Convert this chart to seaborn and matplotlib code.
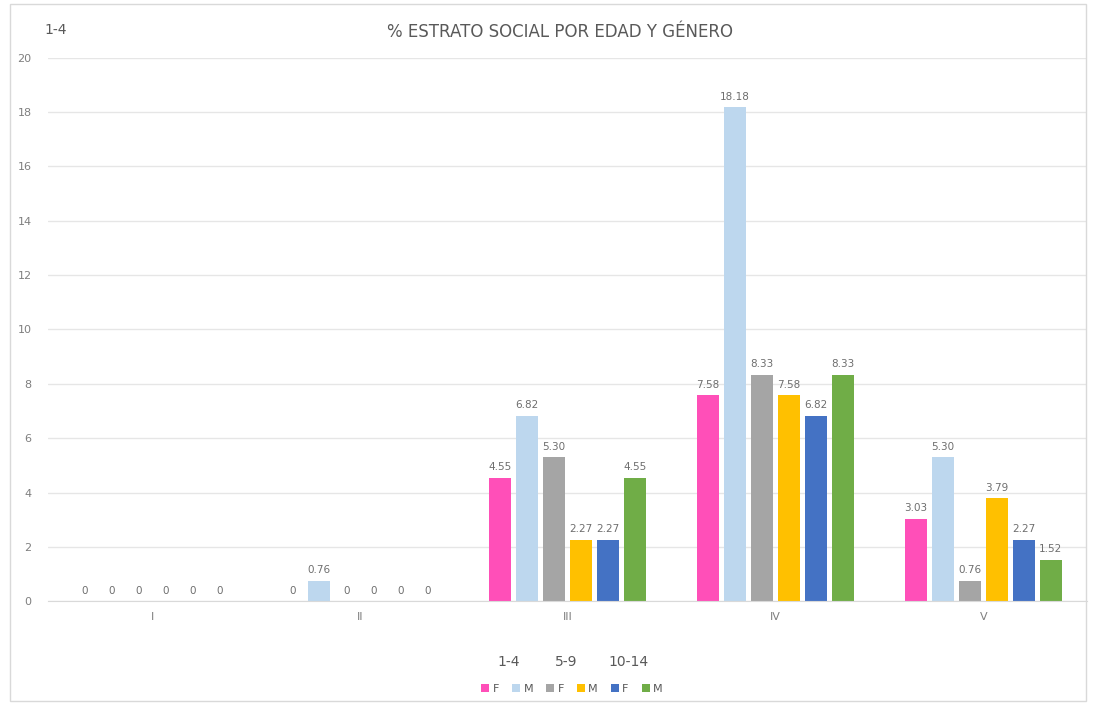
import matplotlib
matplotlib.use("Agg")
import matplotlib.pyplot as plt
import seaborn as sns
import pandas as pd
from matplotlib.patches import Patch, Rectangle

estratos = ["I", "II", "III", "IV", "V"]
series = ["1-4 F", "1-4 M", "5-9 F", "5-9 M", "10-14 F", "10-14 M"]
f_1_4 = [0, 0, 4.55, 7.58, 3.03]
m_1_4 = [0, 0.76, 6.82, 18.18, 5.30]
f_5_9 = [0, 0, 5.30, 8.33, 0.76]
m_5_9 = [0, 0, 2.27, 7.58, 3.79]
f_10_14 = [0, 0, 2.27, 6.82, 2.27]
m_10_14 = [0, 0, 4.55, 8.33, 1.52]
colores = ["#FF4FB8", "#BDD7EE", "#A5A5A5", "#FFC000", "#4472C4", "#70AD47"]
grupos = ["1-4", "5-9", "10-14"]
generos = ["F", "M", "F", "M", "F", "M"]

valores = [f_1_4, m_1_4, f_5_9, m_5_9, f_10_14, m_10_14]
filas = []
for s, vals in zip(series, valores):
    for e, v in zip(estratos, vals):
        filas.append({"estrato": e, "serie": s, "pct": v})
df = pd.DataFrame(filas)

sns.set_style("white")
fig = plt.figure(figsize=(10.96, 7.04), dpi=100)
ax = fig.add_axes([0.044, 0.146, 0.948, 0.772])

sns.barplot(data=df, x="estrato", y="pct", hue="serie", order=estratos,
            hue_order=series, palette=colores, width=0.78, gap=0.18,
            saturation=1, linewidth=0, ax=ax, legend=False)

def fmt(v):
    return "0" if v == 0 else f"{v:.2f}"

for cont, vals in zip(ax.containers, valores):
    ax.bar_label(cont, labels=[fmt(v) for v in vals], padding=4,
                 fontsize=7.5, color="#6E6E6E")

ax.set_ylim(0, 20)
ax.set_yticks(range(0, 21, 2))
ax.yaxis.grid(True, color="#E6E6E6", linewidth=1)
ax.set_axisbelow(True)
for sp in ax.spines.values():
    sp.set_visible(False)
ax.spines["bottom"].set_visible(True)
ax.spines["bottom"].set_color("#D9D9D9")
ax.tick_params(axis="both", length=0, labelsize=8, colors="#7F7F7F")
ax.tick_params(axis="y", pad=12)
ax.tick_params(axis="x", pad=8)
ax.set_xlabel("")
ax.set_ylabel("")

fig.text(0.511, 0.955, "% ESTRATO SOCIAL POR EDAD Y GÉNERO", ha="center",
         va="center", fontsize=12, color="#595959")
fig.text(0.041, 0.957, "1-4", ha="left", va="center", fontsize=10,
         color="#595959")

# encabezado de la leyenda
for txt, x in zip(grupos, [0.464, 0.517, 0.573]):
    fig.text(x, 0.06, txt, ha="center", va="center", fontsize=10,
             color="#595959")

handles = [Patch(facecolor=c, edgecolor="none") for c in colores]
fig.legend(handles, generos, loc="center", bbox_to_anchor=(0.522, 0.022),
           ncol=6, frameon=False, fontsize=8, handlelength=0.7,
           handleheight=0.7, handletextpad=0.3, columnspacing=1.2,
           labelcolor="#595959")

fig.patches.append(Rectangle((0.009, 0.004), 0.982, 0.99,
                             transform=fig.transFigure, fill=False,
                             edgecolor="#D9D9D9", linewidth=1))

fig.savefig("out.png", dpi=100)
